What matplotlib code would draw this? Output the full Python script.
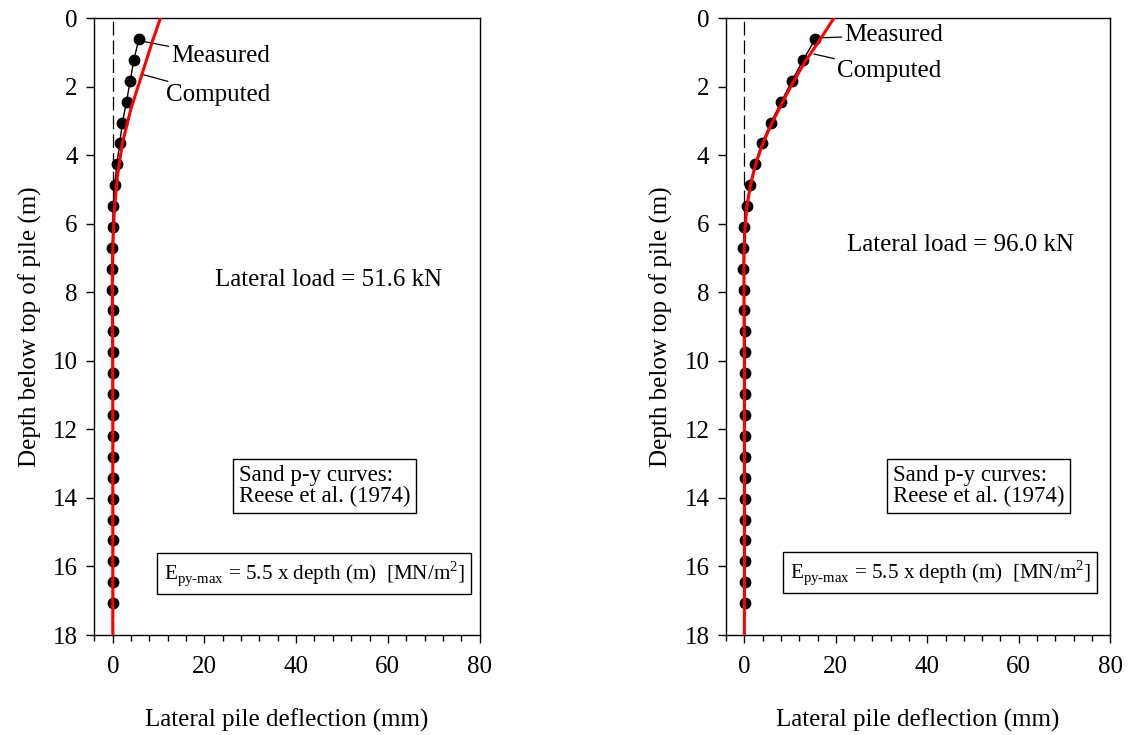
import matplotlib
matplotlib.use("Agg")
import matplotlib.pyplot as plt
from matplotlib.ticker import MultipleLocator

plt.rcParams.update({
    "font.family": ["Liberation Serif", "DejaVu Serif"],
    "mathtext.fontset": "custom",
    "mathtext.rm": "Liberation Serif",
    "font.size": 18,
})

# measured depths (m), 2 ft spacing
depth_meas = [0.61, 1.22, 1.83, 2.44, 3.05, 3.66, 4.27, 4.88, 5.49, 6.10,
              6.71, 7.32, 7.92, 8.53, 9.14, 9.75, 10.36, 10.97, 11.58, 12.19,
              12.80, 13.41, 14.02, 14.63, 15.24, 15.85, 16.46, 17.07]

# load case 1: 51.6 kN
meas_1 = [5.7, 4.6, 3.8, 3.0, 2.1, 1.5, 0.9, 0.4, 0.1, 0.0,
          -0.1, -0.2, -0.2, 0.0, 0.0, 0.0, 0.0, 0.0, 0.0, 0.0,
          0.0, 0.0, 0.0, 0.0, 0.0, 0.0, 0.0, 0.0]
depth_comp_1 = [0.0, 0.74, 1.71, 2.68, 3.65, 4.63, 5.6, 6.5, 7.5, 9.0, 12.0, 18.0]
comp_1 = [10.4, 8.5, 6.2, 3.9, 2.1, 1.0, 0.35, 0.05, -0.1, -0.05, 0.0, 0.0]

# load case 2: 96.0 kN
meas_2 = [15.5, 12.9, 10.4, 8.1, 5.8, 3.8, 2.3, 1.2, 0.5, -0.05,
          -0.2, -0.2, 0.0, 0.0, 0.15, 0.15, 0.15, 0.15, 0.15, 0.1,
          0.1, 0.1, 0.1, 0.1, 0.1, 0.1, 0.1, 0.1]
depth_comp_2 = [0.0, 0.66, 1.27, 1.89, 2.49, 3.1, 3.7, 4.3, 4.9, 5.5, 6.2, 7.0, 8.0, 10.0, 18.0]
comp_2 = [19.6, 16.4, 13.3, 10.6, 8.2, 5.9, 3.9, 2.4, 1.3, 0.55, 0.1, -0.1, -0.1, 0.0, 0.0]

loads = ["51.6", "96.0"]

fig = plt.figure(figsize=(11.31, 7.35), dpi=100)
ax_l = fig.add_axes([0.0835, 0.136, 0.3405, 0.8395])
ax_r = fig.add_axes([0.642, 0.136, 0.3395, 0.8395])


def draw_panel(ax, meas, dcomp, comp, load, meas_xy, comp_xy, meas_txt, comp_txt,
               load_xy, sand_pos, epy_pos):
    ax.axvline(0, color="black", lw=0.9, ls=(0, (11, 4)), zorder=1)
    ax.plot(meas, depth_meas, color="black", lw=1.0, marker="o", ms=7.5,
            markerfacecolor="black", zorder=3)
    ax.plot(comp, dcomp, color="red", lw=2.2, zorder=4)

    ax.set_xlim(-4, 80)
    ax.set_ylim(18, 0)
    ax.xaxis.set_major_locator(MultipleLocator(20))
    ax.xaxis.set_minor_locator(MultipleLocator(4))
    ax.yaxis.set_major_locator(MultipleLocator(2))
    ax.tick_params(which="major", direction="out", length=6, width=1, labelsize=18, pad=9)
    ax.tick_params(which="minor", direction="out", length=4, width=1)
    ax.tick_params(axis="y", pad=6)
    for s in ax.spines.values():
        s.set_linewidth(1.0)
    ax.set_xlabel("Lateral pile deflection (mm)", fontsize=18, labelpad=22)
    ax.set_ylabel("Depth below top of pile (m)", fontsize=18, labelpad=8)

    ax.annotate("Measured", xy=meas_xy, xytext=meas_txt, fontsize=18, va="center",
                arrowprops=dict(arrowstyle="-", color="black", lw=0.9, shrinkA=0, shrinkB=0))
    ax.annotate("Computed", xy=comp_xy, xytext=comp_txt, fontsize=18, va="center",
                arrowprops=dict(arrowstyle="-", color="black", lw=0.9, shrinkA=0, shrinkB=0))

    ax.text(load_xy[0], load_xy[1], f"Lateral load = {load} kN", fontsize=18,
            ha="center", va="center")

    box = dict(boxstyle="square,pad=0.25", facecolor="white", edgecolor="black", lw=1.0)
    ax.text(sand_pos[0], sand_pos[1], "Sand p-y curves:\nReese et al. (1974)",
            transform=ax.transAxes, fontsize=16.5, ha="left", va="center", bbox=box,
            linespacing=1.0)
    box_e = dict(boxstyle="square,pad=0.3", facecolor="white", edgecolor="black", lw=1.0)
    ax.text(epy_pos[0], epy_pos[1],
            r"E$_{\mathregular{py\text{-}max}}$ = 5.5 x depth (m)  [MN/m$^{\mathregular{2}}$]",
            transform=ax.transAxes, fontsize=15.2, ha="center", va="center", bbox=box_e)


draw_panel(ax_l, meas_1, depth_comp_1, comp_1, loads[0],
           meas_xy=(6.5, 0.68), comp_xy=(6.6, 1.65),
           meas_txt=(12.8, 1.12), comp_txt=(11.6, 2.25), load_xy=(47, 7.64),
           sand_pos=(0.375, 0.242), epy_pos=(0.571, 0.1))
draw_panel(ax_r, meas_2, depth_comp_2, comp_2, loads[1],
           meas_xy=(16.3, 0.58), comp_xy=(15.2, 1.05),
           meas_txt=(21.9, 0.5), comp_txt=(20.3, 1.55), load_xy=(47.2, 6.62),
           sand_pos=(0.435, 0.242), epy_pos=(0.558, 0.101))

fig.savefig("out.png", dpi=100)
